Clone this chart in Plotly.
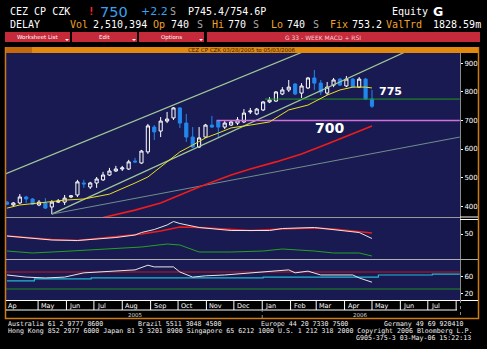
import datetime as dt
import plotly.graph_objects as go

# ---------------- data ----------------
start_week = dt.date(2005, 3, 28)
n_weeks = 58
week_dates = [start_week + dt.timedelta(weeks=i) for i in range(n_weeks)]

opens = [414,404,411,432,425,404,411,397,414,414,432,439,481,467,481,492,509,523,530,530,
         558,551,590,677,663,698,709,744,691,642,607,642,684,698,677,684,691,695,730,723,
         737,765,768,793,807,828,796,814,849,831,796,824,845,821,845,817,845,775]
highs = [418,414,442,436,428,421,428,421,425,439,439,492,492,485,502,520,534,541,541,562,
         569,597,688,684,712,730,747,747,723,677,677,688,716,702,698,698,712,740,744,744,
         768,782,803,817,842,831,831,852,877,842,835,849,849,856,849,852,849,807]
lows = [404,397,407,411,404,400,390,372,411,404,428,432,464,460,464,488,506,520,523,527,
        551,548,583,632,642,691,702,674,625,604,604,639,674,639,670,681,684,691,723,719,
        733,761,765,789,800,789,779,810,807,789,789,817,821,817,814,814,772,744]
closes = [407,411,432,425,407,414,393,414,418,428,436,485,478,481,495,509,523,530,534,555,
          555,593,681,660,698,705,744,691,642,607,639,684,677,677,691,695,702,726,733,740,
          765,772,800,807,817,793,821,849,831,800,817,842,824,845,817,845,775,750]

# moving averages (week index -> value)
ma_short_idx = [0,2,5,9,12,16,20,22,25,27,29,31,33,35,38,41,44,47,50,52,54,56,57]
ma_short_val = [393,404,411,421,425,442,481,502,555,590,614,639,656,674,684,695,737,754,789,807,817,817,814]
ma_long_idx = [15,16,20,24,30,35,38,42,46,50,54,57]
ma_long_val = [360,365,386,411,467,509,530,555,583,618,653,681]

# trend lines (two anchor points each)
upper_chan_x = ["2005-03-27", "2006-08-05"]
upper_chan_y = [514, 1166]
lower_chan_x = ["2005-05-16", "2006-08-05"]
lower_chan_y = [372, 1028]
grey_trend_x = ["2005-05-16", "2006-08-05"]
grey_trend_y = [372, 642]

# horizontal levels
level_775 = 775
level_775_from = "2006-01-04"
level_700 = 700
level_700_from = "2005-11-12"
x_end = "2006-08-05"

# MACD panel (scaled units)
macd_idx = [0,4,7,11,13,17,20,21,23,25,26,27,30,32,35,41,43,48,51,54,55,57]
macd_val = [46,41,38,37,39,43,48,53,59,68,75,71,63,60,57,57,61,63,59,55,53,41]
signal_idx = [0,7,11,15,21,24,27,30,34,38,43,48,51,54,57]
signal_val = [46,39,37,42,50,56,64,63,60,57,60,62,60,56,52]
hist_idx = [0,4,10,15,21,25,27,30,35,40,43,48,51,55,57]
hist_val = [16,12,16,20,24,30,28,14,14,16,20,16,12,12,6]

# RSI panel
rsi_idx = [0,3,6,9,12,16,20,22,23,26,27,29,31,34,38,41,44,45,47,49,54,55,57]
rsi_val = [63,58,56,58,68,72,75,86,82,82,70,58,61,63,68,70,75,68,72,63,63,56,46]
rsi_ma_x = ["2005-03-28","2005-04-27","2005-06-28","2006-01-02","2006-05-08","2006-07-06","2006-08-05"]
rsi_ma_y = [49,54,56,58,63,65,65]
rsi_hi, rsi_lo = 70, 30

month_starts = ["2005-05-01","2005-06-01","2005-07-01","2005-08-01","2005-09-01","2005-10-01",
                "2005-11-01","2005-12-01","2006-01-01","2006-02-01","2006-03-01","2006-04-01",
                "2006-05-01","2006-06-01","2006-07-01"]
month_labels = ["May","Jun","Jul","Aug","Sep","Oct","Nov","Dec","Jan","Feb","Mar","Apr","May","Jun","Jul"]
month_end = "2006-08-01"
years = ["2005", "2006"]

x_range = ["2005-03-26 22:00", "2006-08-05 05:00"]

# ---------------- styling helpers ----------------
W, H = 487, 349
def PX(x): return x / W
def PY(y): return 1 - y / H

NAVY = "#1a1a52"
WHITE = "#ffffff"
GREY = "#a8a8a8"
ORANGE_T = "#f0a22a"
BLUE_T = "#3aa0f0"
MONO = "DejaVu Sans Mono"
SANS = "DejaVu Sans"

fig = go.Figure()

def wd(idxs):
    return [week_dates[i] for i in idxs]

# main panel
fig.add_trace(go.Scatter(x=upper_chan_x, y=upper_chan_y, mode="lines",
                         line=dict(color="#a0c898", width=1.2), xaxis="x", yaxis="y"))
fig.add_trace(go.Scatter(x=lower_chan_x, y=lower_chan_y, mode="lines",
                         line=dict(color="#a0c898", width=1.2), xaxis="x", yaxis="y"))
fig.add_trace(go.Scatter(x=grey_trend_x, y=grey_trend_y, mode="lines",
                         line=dict(color="#6f8f8a", width=1), xaxis="x", yaxis="y"))
fig.add_trace(go.Scatter(x=[level_775_from, x_end], y=[level_775, level_775], mode="lines",
                         line=dict(color="#1f9a1f", width=1), xaxis="x", yaxis="y"))
fig.add_trace(go.Scatter(x=[level_700_from, x_end], y=[level_700, level_700], mode="lines",
                         line=dict(color="#d070d8", width=1.6), xaxis="x", yaxis="y"))
fig.add_trace(go.Scatter(x=wd(ma_long_idx), y=ma_long_val, mode="lines",
                         line=dict(color="#ee1c1c", width=1.6), xaxis="x", yaxis="y"))
fig.add_trace(go.Scatter(x=wd(ma_short_idx), y=ma_short_val, mode="lines",
                         line=dict(color="#e8e020", width=1), xaxis="x", yaxis="y"))
fig.add_trace(go.Candlestick(
    x=week_dates, open=opens, high=highs, low=lows, close=closes,
    increasing=dict(line=dict(color=WHITE, width=1), fillcolor="rgba(0,0,0,0)"),
    decreasing=dict(line=dict(color="#2088ee", width=1), fillcolor="#2088ee"),
    whiskerwidth=0, xaxis="x", yaxis="y"))

# MACD panel
fig.add_trace(go.Scatter(x=wd(hist_idx), y=hist_val, mode="lines",
                         line=dict(color="#22a322", width=1), xaxis="x", yaxis="y2"))
fig.add_trace(go.Scatter(x=wd(signal_idx), y=signal_val, mode="lines",
                         line=dict(color="#ee1c1c", width=1.4), xaxis="x", yaxis="y2"))
fig.add_trace(go.Scatter(x=wd(macd_idx), y=macd_val, mode="lines",
                         line=dict(color="#e6e6e6", width=1), xaxis="x", yaxis="y2"))

# RSI panel
fig.add_trace(go.Scatter(x=[x_range[0], x_range[1]], y=[rsi_hi, rsi_hi], mode="lines",
                         line=dict(color="#c01818", width=1.2), xaxis="x", yaxis="y3"))
fig.add_trace(go.Scatter(x=[x_range[0], x_range[1]], y=[rsi_lo, rsi_lo], mode="lines",
                         line=dict(color="#1f8a1f", width=1), xaxis="x", yaxis="y3"))
fig.add_trace(go.Scatter(x=rsi_ma_x, y=rsi_ma_y, mode="lines", line_shape="hv",
                         line=dict(color="#20b8d0", width=1.2), xaxis="x", yaxis="y3"))
fig.add_trace(go.Scatter(x=wd(rsi_idx), y=rsi_val, mode="lines",
                         line=dict(color="#e6e6e6", width=1), xaxis="x", yaxis="y3"))

yax = dict(showgrid=False, zeroline=False, side="right", anchor="x", ticks="outside",
           ticklen=2, tickcolor=WHITE, tickfont=dict(size=7, color=WHITE, family=SANS),
           showline=True, linecolor="#8a8a8a", linewidth=1, fixedrange=True)

fig.update_layout(
    width=W, height=H, margin=dict(l=0, r=0, t=0, b=0),
    paper_bgcolor="#000000", plot_bgcolor=NAVY, showlegend=False,
    xaxis=dict(domain=[PX(6), PX(460)], range=x_range, type="date", visible=False,
               rangeslider=dict(visible=False), anchor="y3"),
    yaxis=dict(yax, domain=[PY(217), PY(53)], range=[361.9, 936.5],
               tickvals=[400, 500, 600, 700, 800, 900]),
    yaxis2=dict(yax, domain=[PY(259), PY(217)], range=[0, 84], tickvals=[50]),
    yaxis3=dict(yax, domain=[PY(300), PY(259)], range=[4.1, 100.6], tickvals=[20, 60]),
)

shapes = []
def rect(x0, y0, x1, y1, fill, line=None):
    shapes.append(dict(type="rect", xref="paper", yref="paper", x0=PX(x0), x1=PX(x1),
                       y0=PY(y1), y1=PY(y0), fillcolor=fill,
                       line=dict(width=0) if line is None else line, layer="above"))
def hline(x0, x1, y, color, width=1, dash=None):
    shapes.append(dict(type="line", xref="paper", yref="paper", x0=PX(x0), x1=PX(x1),
                       y0=PY(y), y1=PY(y), line=dict(color=color, width=width, dash=dash),
                       layer="above"))
def vline(x, y0, y1, color, width=1, dash=None):
    shapes.append(dict(type="line", xref="paper", yref="paper", x0=PX(x), x1=PX(x),
                       y0=PY(y0), y1=PY(y1), line=dict(color=color, width=width, dash=dash),
                       layer="above"))

# buttons bar
rect(5, 32, 70, 42, "#c42a3a")
rect(72, 32, 137, 42, "#c42a3a")
rect(139, 32, 204, 42, "#c42a3a")
rect(207, 32, 480, 42, "#c42a3a")
for bx in (67, 134, 201):
    shapes.append(dict(type="path", xref="paper", yref="paper",
                       path=f"M {PX(bx-2)} {PY(39)} L {PX(bx+2)} {PY(39)} L {PX(bx)} {PY(41)} Z",
                       fillcolor=WHITE, line=dict(width=0), layer="above"))

# orange title bar and frame
rect(5, 47, 479, 53, "#e2880f")
rect(5, 47, 32, 53, "#c46a0c")
vline(5.5, 47, 319, "#d07a12", 1.5)
vline(478.5, 47, 319, "#d07a12", 1.5)
hline(5, 479, 318.5, "#d07a12", 1.5)

# panel separators
hline(6, 460, 217.5, "#9a9a9a", 1.2)
hline(460, 478, 217, WHITE, 1)
hline(460, 478, 219.5, WHITE, 1)
hline(6, 478, 259.5, "#b0b0b0", 1.2)

# x axis rows
hline(6, 478, 300.5, WHITE, 1)
hline(6, 457, 310, WHITE, 1)
vline(460.5, 300, 318, "#8a8a8a", 1, "dot")
for d in month_starts + [month_end]:
    shapes.append(dict(type="line", xref="x", yref="paper", x0=d, x1=d,
                       y0=PY(310), y1=PY(301), line=dict(color=WHITE, width=1), layer="above"))
shapes.append(dict(type="line", xref="x", yref="paper", x0="2006-01-01", x1="2006-01-01",
                   y0=PY(318), y1=PY(310), line=dict(color="#8a8a8a", width=1, dash="dot"),
                   layer="above"))
fig.update_layout(shapes=shapes)

ann = []
def txt(s, x, y, color=WHITE, size=10, family=MONO, anchor="left"):
    ann.append(dict(text=s, x=PX(x), y=PY(y), xref="paper", yref="paper", showarrow=False,
                    xanchor=anchor, yanchor="middle", font=dict(color=color, size=size, family=family),
                    borderpad=0))

# header line 1
txt("CEZ CP CZK", 9, 11.5)
txt("<b>!</b>", 87, 11.5, "#ff2a2a", 11)
txt("750", 99, 11.5, BLUE_T, 14.5, SANS)
txt("+2.2", 140, 11.5, BLUE_T, 11, SANS)
txt("S", 169, 11.5, GREY)
txt("P745.4/754.6P", 187, 11.5)
txt("Equity", 391, 11.5)
txt("<b>G</b>", 432, 11, WHITE, 12.5, SANS)
# header line 2
for s, x, c in [("DELAY", 9, WHITE), ("Vol", 69, ORANGE_T), ("2,510,394", 92, WHITE),
                ("Op", 152, ORANGE_T), ("740", 170, WHITE), ("S", 196, GREY),
                ("Hi", 211, ORANGE_T), ("770", 227, WHITE), ("S", 252, GREY),
                ("Lo", 270, ORANGE_T), ("740", 286, WHITE), ("S", 312, GREY),
                ("Fix", 329, ORANGE_T), ("753.2", 351, WHITE), ("ValTrd", 385, ORANGE_T),
                ("1828.59m", 432, WHITE)]:
    txt(s, x, 24.5, c)

# buttons text
txt("Worksheet List", 37, 37, WHITE, 5.5, SANS, "center")
txt("Edit", 104, 37, WHITE, 5.5, SANS, "center")
txt("Options", 171, 37, WHITE, 5.5, SANS, "center")
txt("G 33 - WEEK MACD + RSI", 323, 37, "#f4d0d4", 6, SANS, "center")
# title on orange bar
txt("CEZ CP CZK 03/28/2005 to 05/03/2006", 242, 50, "#3a2000", 5.5, SANS, "center")

# level labels (data coordinates)
ann.append(dict(text="<b>775</b>", x="2006-05-07", y=800, xref="x", yref="y", showarrow=False,
                xanchor="left", yanchor="middle", font=dict(color=WHITE, size=11, family=SANS)))
ann.append(dict(text="<b>700</b>", x="2006-02-25", y=673, xref="x", yref="y", showarrow=False,
                xanchor="left", yanchor="middle", font=dict(color=WHITE, size=14, family=SANS)))

# month labels
txt("Ap", 7, 305.5, WHITE, 6.5, SANS)
for d, lab in zip(month_starts, month_labels):
    ann.append(dict(text=lab, x=d, y=PY(305.5), xref="x", yref="paper", showarrow=False,
                    xanchor="left", yanchor="middle", xshift=1,
                    font=dict(color=WHITE, size=6.5, family=SANS)))
ann.append(dict(text=years[0], x="2005-08-15", y=PY(314.5), xref="x", yref="paper", showarrow=False,
                xanchor="center", yanchor="middle", font=dict(color="#d8d8d8", size=5.5, family=SANS)))
ann.append(dict(text=years[1], x="2006-04-18", y=PY(314.5), xref="x", yref="paper", showarrow=False,
                xanchor="center", yanchor="middle", font=dict(color="#d8d8d8", size=5.5, family=SANS)))

# footer
FS = 6.6
FC = "#f0f0f0"
txt("Australia 61 2 9777 8600", 7, 323.5, FC, FS)
txt("Brazil 5511 3048 4500", 137, 323.5, FC, FS)
txt("Europe 44 20 7330 7500", 260, 323.5, FC, FS)
txt("Germany 49 69 920410", 383, 323.5, FC, FS)
txt("Hong Kong 852 2977 6000 Japan 81 3 3201 8900 Singapore 65 6212 1000 U.S. 1 212 318 2000 Copyright 2006 Bloomberg L.P.",
    7, 330.5, FC, FS)
txt("G905-375-3 03-May-06 15:22:13", 355, 337.5, FC, FS)

fig.update_layout(annotations=ann)
fig.write_html("out.html")
